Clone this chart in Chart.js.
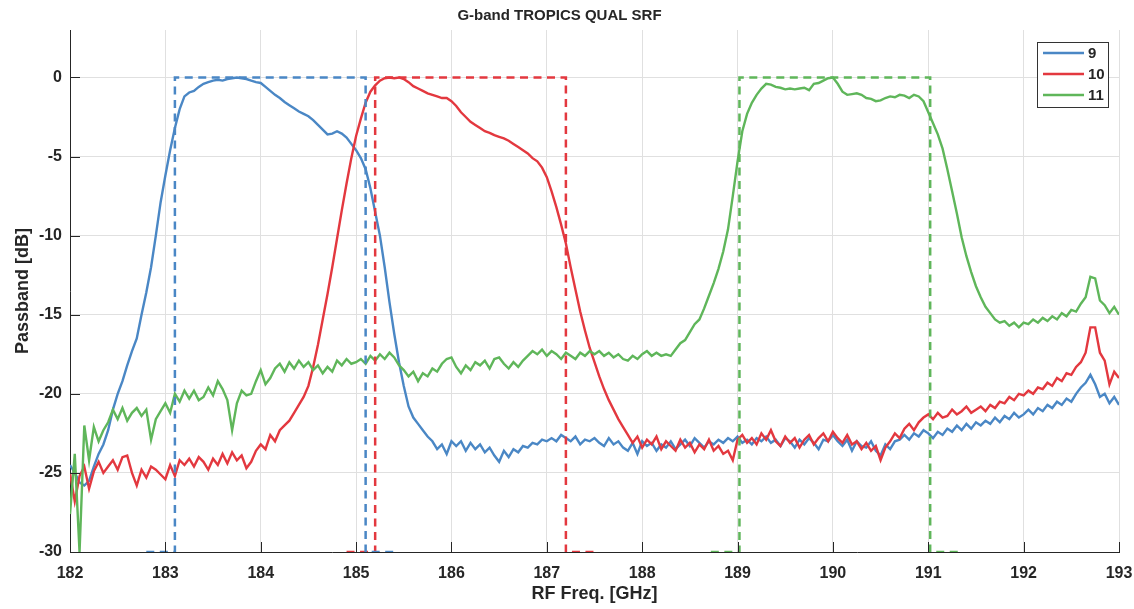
<!DOCTYPE html>
<html>
<head>
<meta charset="utf-8">
<title>G-band TROPICS QUAL SRF</title>
<script src="https://cdn.jsdelivr.net/npm/chart.js@4.4.1/dist/chart.umd.min.js"></script>
<style>
  html, body { margin: 0; padding: 0; background: #fff; }
  #wrap { width: 1134px; height: 609px; }
</style>
</head>
<body>
<div id="wrap"><canvas id="srfChart" width="1134" height="609"></canvas></div>
<script>
// Frequency grid of the measured SRF (GHz), one sample every 0.05 GHz
const FREQ_START = 182;
const FREQ_STEP = 0.05;

const seriesNames = ['9', '10', '11'];
const freqTicks = [182, 183, 184, 185, 186, 187, 188, 189, 190, 191, 192, 193];
const dbTicks = [-30, -25, -20, -15, -10, -5, 0];

// Channel 9 passband [dB], 182.00 .. 193.00 GHz (20 samples per GHz)
const ch9 = [
  -24.5, -25.0, -25.6, -25.8, -25.5, -24.6, -23.8, -23.2, -22.3, -21.0, -20.0, -19.2, -18.2, -17.3, -16.5, -15.0, -13.6, -12.0, -10.0, -7.9,
  -6.2, -4.6, -3.2, -2.0, -1.2, -0.95, -0.85, -0.6, -0.4, -0.3, -0.2, -0.15, -0.2, -0.1, -0.05, 0, -0.05, -0.1, -0.2, -0.3,
  -0.35, -0.6, -0.85, -1.1, -1.3, -1.55, -1.75, -1.95, -2.15, -2.3, -2.45, -2.7, -3.0, -3.3, -3.6, -3.55, -3.4, -3.55, -3.8, -4.2,
  -4.6, -5.1, -5.8, -7.0, -8.5, -10.0, -12.0, -14.2, -16.2, -18.0, -19.5, -20.8, -21.5, -21.9, -22.3, -22.7, -23.0, -23.5, -23.2, -23.8,
  -23.0, -23.3, -23.0, -23.6, -23.1, -23.5, -23.2, -23.7, -23.4, -23.9, -24.3, -23.6, -24.0, -23.5, -23.7, -23.3, -23.4, -23.1, -23.2, -22.9,
  -23.0, -22.8, -23.0, -22.6, -22.8, -23.0, -22.7, -23.2, -22.9, -23.0, -22.8, -23.1, -23.3, -22.8, -23.2, -23.0, -23.4, -23.6, -23.1, -23.8,
  -23.0, -23.3, -23.1, -23.6, -23.2, -23.4, -23.0, -23.5, -23.2, -22.9, -23.3, -22.8, -23.1, -23.4, -23.0, -23.2, -22.9, -23.1, -22.8, -23.0,
  -22.7, -23.1, -22.9, -23.2, -22.8, -23.0, -22.7, -23.1, -22.9, -23.3, -22.8, -23.0, -23.4, -22.9, -23.2, -22.8, -23.1, -23.5, -22.9, -23.0,
  -22.6, -23.0, -23.3, -22.9, -23.6, -23.0, -23.3, -23.4, -23.0, -23.6, -23.9, -23.2, -23.5, -23.0, -22.9, -22.6, -22.9, -22.5, -22.7, -22.3,
  -22.5, -22.8, -22.4, -22.6, -22.2, -22.4, -22.0, -22.3, -21.9, -22.2, -21.8, -22.0, -21.7, -21.9, -21.5, -21.8, -21.4, -21.6, -21.2, -21.5,
  -21.3, -21.0, -21.3, -20.9, -21.1, -20.7, -20.9, -20.5, -20.7, -20.3, -20.5, -20.0, -19.6, -19.3, -18.8, -19.4, -20.2, -20.0, -20.6, -20.2,
  -20.7
];

// Channel 10 passband [dB]
const ch10 = [
  -25.0, -26.8, -25.2, -24.6, -26.0, -24.9, -24.3, -25.0, -24.6, -24.2, -24.8, -24.0, -23.9, -25.0, -25.8, -24.8, -25.3, -24.6, -24.8, -25.1,
  -25.4, -24.5, -25.2, -24.2, -24.5, -24.1, -24.6, -24.0, -24.3, -24.8, -24.1, -24.5, -23.8, -24.4, -23.7, -24.2, -23.9, -24.7, -24.3, -23.6,
  -23.2, -23.5, -22.6, -23.0, -22.3, -22.0, -21.7, -21.2, -20.7, -20.2, -19.5, -18.3, -16.9, -15.3, -13.7, -12.0, -10.2, -8.4, -6.7, -5.1,
  -3.7, -2.6, -1.6, -0.9, -0.5, -0.2, -0.05, 0, -0.05, 0, -0.1, -0.3, -0.55, -0.7, -0.85, -1.0, -1.1, -1.2, -1.3, -1.3,
  -1.5, -1.8, -2.2, -2.5, -2.8, -3.0, -3.2, -3.4, -3.5, -3.65, -3.75, -3.85, -4.0, -4.2, -4.4, -4.6, -4.8, -5.1, -5.3, -5.7,
  -6.3, -7.2, -8.2, -9.3, -10.5, -12.0, -13.4, -14.8, -16.0, -17.1, -18.0, -18.9, -19.7, -20.4, -21.0, -21.6, -22.1, -22.6, -23.1, -22.7,
  -23.4, -22.9, -23.2, -22.7, -23.5, -23.0, -23.3, -23.6, -22.9, -23.4, -23.1, -23.7, -23.2, -23.5, -22.9, -23.6, -23.3, -23.8, -23.6, -24.2,
  -22.9, -22.6, -23.1, -22.8, -23.2, -22.5, -22.9, -22.3, -23.0, -23.3, -22.7, -23.1, -22.8, -23.4, -22.9, -22.6, -23.2, -22.8, -22.5, -23.0,
  -22.4, -22.8, -23.1, -22.6, -23.2, -23.0, -23.5, -23.1, -23.6, -23.3, -24.2, -23.4, -23.0, -22.5, -22.8, -22.2, -21.9, -22.3, -21.8, -21.5,
  -21.3, -21.6, -21.2, -21.5, -21.4, -21.0, -21.3, -21.1, -20.8, -21.2, -21.0, -20.8, -21.1, -20.7, -20.9, -20.5, -20.6, -20.2, -20.4, -20.0,
  -20.1, -19.8, -20.0, -19.6, -19.7, -19.3, -19.5, -19.0, -19.2, -18.7, -18.8, -18.3, -18.0, -17.4, -15.8, -15.8, -17.4, -17.9, -19.4, -18.6,
  -19.0
];

// Channel 11 passband [dB]
const ch11 = [
  -27.6, -23.8, -30.0, -22.0, -24.2, -22.1, -23.0, -22.3, -21.8, -21.0, -21.6, -20.9, -21.7, -21.2, -20.9, -21.4, -21.0, -22.9, -21.6, -21.1,
  -20.6, -21.2, -20.0, -20.5, -19.8, -20.3, -19.8, -20.4, -20.2, -19.6, -20.1, -19.2, -19.7, -20.4, -22.3, -20.6, -19.8, -20.1, -20.0, -19.2,
  -18.5, -19.4, -19.0, -18.4, -18.1, -18.6, -18.0, -18.4, -17.9, -18.3, -18.0, -18.5, -18.2, -18.7, -18.3, -18.6, -17.9, -18.2, -17.8, -18.1,
  -18.0, -17.8, -18.1, -17.6, -17.9, -17.5, -17.8, -17.4, -17.7, -18.2, -18.5, -18.9, -18.6, -19.2, -18.7, -18.9, -18.4, -18.6, -18.1, -17.8,
  -17.7, -18.3, -18.7, -18.2, -18.5, -18.0, -18.2, -17.9, -18.4, -17.8, -17.7, -18.1, -18.4, -18.0, -18.3, -17.9, -17.6, -17.3, -17.5, -17.2,
  -17.6, -17.3, -17.5, -17.8, -17.4, -17.6, -17.8, -17.4, -17.6, -17.3, -17.5, -17.3, -17.6, -17.4, -17.7, -17.5, -17.8, -17.9, -17.6, -17.8,
  -17.5, -17.3, -17.6, -17.4, -17.6, -17.5, -17.6, -17.2, -16.8, -16.6, -16.1, -15.6, -15.3, -14.6, -13.8, -13.0, -12.1, -11.0, -9.6, -7.5,
  -5.3, -3.4, -2.3, -1.6, -1.1, -0.7, -0.4, -0.45, -0.6, -0.65, -0.75, -0.7, -0.75, -0.7, -0.65, -0.8, -0.4, -0.35, -0.2, -0.05,
  0, -0.4, -0.9, -1.1, -1.05, -1.0, -1.1, -1.3, -1.35, -1.5, -1.45, -1.3, -1.2, -1.25, -1.1, -1.15, -1.3, -1.1, -1.2, -1.5,
  -2.2, -2.9, -3.6, -4.5, -5.8, -7.2, -8.6, -10.1, -11.3, -12.3, -13.2, -13.9, -14.5, -14.9, -15.3, -15.5, -15.4, -15.7, -15.5, -15.8,
  -15.5, -15.6, -15.3, -15.5, -15.2, -15.4, -15.1, -15.3, -14.9, -15.1, -14.7, -14.8, -14.3, -13.9, -12.6, -12.7, -14.1, -14.4, -14.9, -14.5,
  -15.0
];

// Nominal band edges [GHz] drawn as dashed boxes
const band9 = [183.1, 185.1];
const band10 = [185.2, 187.2];
const band11 = [189.02, 191.02];

const colors = ['#4a87c5', '#e3383f', '#5fb65a'];
const FONT = "'Liberation Sans', Arial, Helvetica, sans-serif";
const INK = '#262626';

function toPoints(values) {
    return values.map((v, i) => ({ x: FREQ_START + i * FREQ_STEP, y: v }));
}

// dashed rectangle from 0 dB down to the bottom of the axis
function boxPoints(edges) {
    const floor = dbTicks[0];
    const tail = 0.3;
    return [
        { x: edges[0] - tail, y: floor },
        { x: edges[0], y: floor },
        { x: edges[0], y: 0 },
        { x: edges[1], y: 0 },
        { x: edges[1], y: floor },
        { x: edges[1] + tail, y: floor }
    ];
}

// MATLAB-like tick marks pointing into the plot
const innerTicks = {
    id: 'innerTicks',
    afterDatasetsDraw(chart) {
        const { ctx, chartArea, scales } = chart;
        ctx.save();
        ctx.strokeStyle = INK;
        ctx.lineWidth = 1;
        ctx.beginPath();
        freqTicks.forEach(f => {
            const px = Math.round(scales.x.getPixelForValue(f)) + 0.5;
            ctx.moveTo(px, chartArea.bottom);
            ctx.lineTo(px, chartArea.bottom - 10);
        });
        dbTicks.forEach(d => {
            const py = Math.round(scales.y.getPixelForValue(d)) + 0.5;
            ctx.moveTo(chartArea.left, py);
            ctx.lineTo(chartArea.left + 10, py);
        });
        ctx.stroke();
        ctx.restore();
    }
};

// boxed legend in the upper right corner of the axes
const boxedLegend = {
    id: 'boxedLegend',
    afterDraw(chart) {
        const { ctx, chartArea } = chart;
        const w = 71, h = 65;
        const left = chartArea.right - 11 - w;
        const top = chartArea.top + 12;
        ctx.save();
        ctx.fillStyle = '#fff';
        ctx.fillRect(left, top, w, h);
        ctx.strokeStyle = '#333';
        ctx.lineWidth = 1;
        ctx.strokeRect(left + 0.5, top + 0.5, w, h);
        ctx.font = 'bold 15px ' + FONT;
        ctx.textBaseline = 'middle';
        ctx.textAlign = 'left';
        seriesNames.forEach((name, i) => {
            const y = top + 11 + i * 21;
            ctx.strokeStyle = colors[i];
            ctx.lineWidth = 2.5;
            ctx.beginPath();
            ctx.moveTo(left + 6, y);
            ctx.lineTo(left + 47, y);
            ctx.stroke();
            ctx.fillStyle = INK;
            ctx.fillText(name, left + 51, y + 1);
        });
        ctx.restore();
    }
};

const solidSeries = [ch9, ch10, ch11].map((vals, i) => ({
    label: seriesNames[i],
    data: toPoints(vals),
    borderColor: colors[i],
    borderWidth: 2.4,
    pointRadius: 0,
    tension: 0,
    order: 3 - i
}));

const bandSeries = [band9, band10, band11].map((edges, i) => ({
    label: 'band ' + seriesNames[i],
    data: boxPoints(edges),
    borderColor: colors[i],
    borderWidth: 2.5,
    borderDash: [8, 5.5],
    pointRadius: 0,
    tension: 0,
    order: 0
}));

new Chart(document.getElementById('srfChart'), {
    type: 'line',
    data: { datasets: solidSeries.concat(bandSeries) },
    options: {
        responsive: false,
        animation: false,
        events: [],
        layout: { padding: { left: 0, right: 15, top: 0, bottom: 0 } },
        plugins: {
            legend: { display: false },
            tooltip: { enabled: false },
            title: {
                display: true,
                text: 'G-band TROPICS QUAL SRF',
                color: INK,
                font: { family: FONT, size: 15, weight: 'bold' },
                padding: { top: 7, bottom: 5 }
            }
        },
        scales: {
            x: {
                type: 'linear',
                min: freqTicks[0],
                max: freqTicks[freqTicks.length - 1],
                afterFit: scale => {
                    scale.height = 57;
                    scale.paddingLeft = 0;
                    scale.paddingRight = 0;
                },
                afterBuildTicks: scale => { scale.ticks = freqTicks.map(v => ({ value: v })); },
                grid: { color: '#e0e0e0', drawTicks: false },
                border: { color: INK, width: 1 },
                ticks: {
                    color: INK,
                    padding: 12,
                    maxRotation: 0,
                    font: { family: FONT, size: 16, weight: 'bold' }
                },
                title: {
                    display: true,
                    text: 'RF Freq. [GHz]',
                    color: INK,
                    font: { family: FONT, size: 18, weight: 'bold' },
                    padding: { top: 0, bottom: 4 }
                }
            },
            y: {
                min: dbTicks[0],
                max: 3,
                afterFit: scale => {
                    scale.width = 70;
                    scale.paddingTop = 0;
                    scale.paddingBottom = 0;
                },
                afterBuildTicks: scale => { scale.ticks = dbTicks.map(v => ({ value: v })); },
                grid: { color: '#e0e0e0', drawTicks: false },
                border: { color: INK, width: 1 },
                ticks: {
                    color: INK,
                    padding: 8,
                    font: { family: FONT, size: 16, weight: 'bold' }
                },
                title: {
                    display: true,
                    text: 'Passband [dB]',
                    color: INK,
                    font: { family: FONT, size: 18, weight: 'bold' },
                    padding: { top: 12, bottom: 0 }
                }
            }
        }
    },
    plugins: [innerTicks, boxedLegend]
});
</script>
</body>
</html>
